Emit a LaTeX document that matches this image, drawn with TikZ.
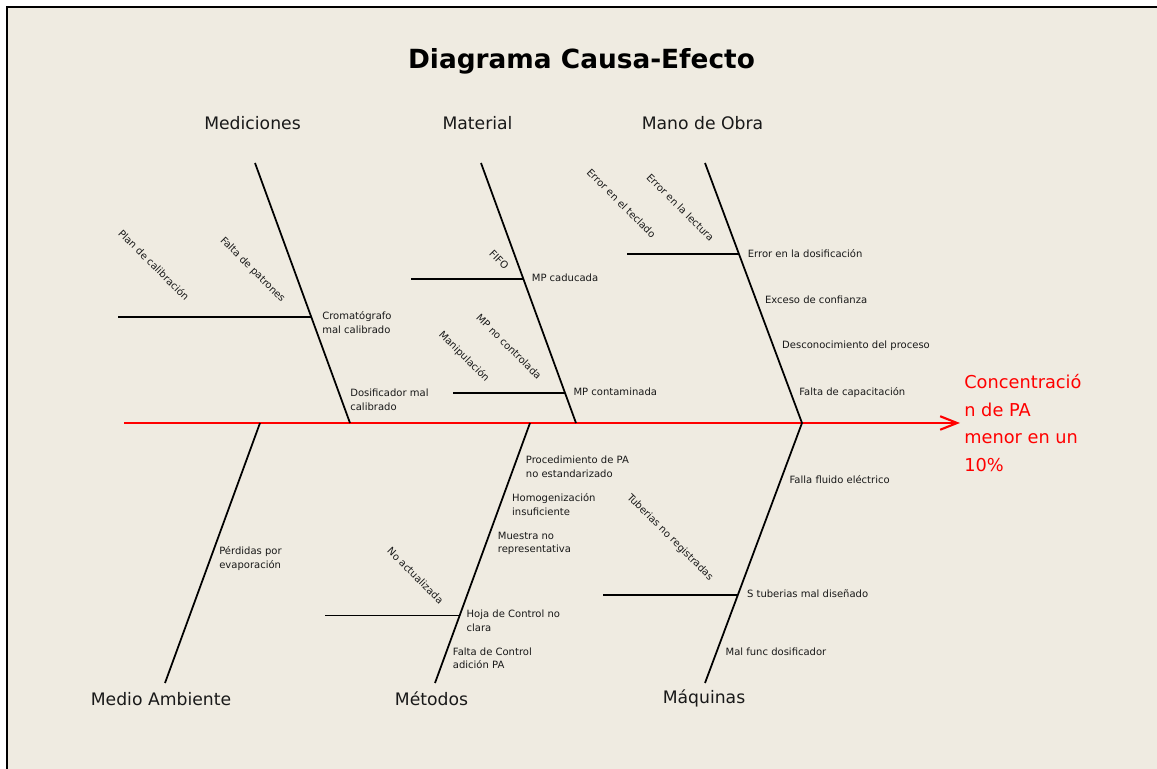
\documentclass[tikz,border=0pt]{standalone}
\usepackage{fontspec}
\setmainfont{DejaVu Sans}
\usetikzlibrary{arrows.meta}

\definecolor{fondo}{RGB}{239,235,225}
\definecolor{texto}{RGB}{25,25,25}

\tikzset{
  bone/.style={line width=1pt, black},
  spine/.style={line width=1.2pt, red, -{Straight Barb[length=0.34cm, width=0.27cm]}},
  causa/.style={anchor=west, inner sep=0pt, xshift=0.16cm, align=left, text=texto, font=\fontsize{5.7}{7.9}\selectfont},
  subcausa/.style={rotate=-45, inner sep=0pt, text=texto, font=\fontsize{5.7}{7.9}\selectfont},
  categoria/.style={text=texto, font=\fontsize{9.8}{12}\selectfont},
}

\begin{document}
\begin{tikzpicture}
  \useasboundingbox (0,0) rectangle (23.14,15.38);
  \fill[fondo] (0.14,0) rectangle (23.14,15.24);
  \draw[line width=1.1pt] (0.14,0) -- (0.14,15.24) -- (23.14,15.24);

  \node[text=black, font=\fontsize{15}{18}\selectfont\bfseries] (titulo) at (11.63,14.15) {Diagrama Causa-Efecto};

  % espina central y efecto
  \coordinate (cola) at (2.48,6.92);
  \node[anchor=west, inner sep=0.08cm, align=left, red, font=\fontsize{10.1}{15.76}\selectfont] (efecto) at (19.2,6.92) {Concentració\\n de PA\\menor en un\\10\%};
  \draw[spine] (cola) -- (efecto.west);

  % categorias
  \node[categoria] (medic) at (5.05,12.91) {Mediciones};
  \node[categoria] (mater) at (9.55,12.91) {Material};
  \node[categoria] (mano) at (14.05,12.91) {Mano de Obra};
  \node[categoria] (ambiente) at (3.22,1.39) {Medio Ambiente};
  \node[categoria] (metodos) at (8.63,1.41) {Métodos};
  \node[categoria] (maquinas) at (14.08,1.42) {Máquinas};

  % espinas de arriba
  \coordinate (medT) at (5.10,12.12);  \coordinate (medB) at (7.00,6.92);
  \coordinate (matT) at (9.62,12.12);  \coordinate (matB) at (11.52,6.92);
  \coordinate (moT) at (14.10,12.12);  \coordinate (moB) at (16.04,6.92);

  \draw[bone] (medT) -- (medB)
    coordinate[pos=0.592] (cromJ)
    node[causa, pos=0.615] (cromato) {Cromatógrafo\\mal calibrado}
    node[causa, pos=0.91] (dosif) {Dosificador mal\\calibrado};
  \draw[bone] (cromJ) -- +(-3.865,0) coordinate (cromL);

  \draw[bone] (matT) -- (matB)
    coordinate[pos=0.446] (caducJ)
    coordinate[pos=0.885] (contamJ)
    node[causa, pos=0.442] (caducada) {MP caducada}
    node[causa, pos=0.881] (contam) {MP contaminada};
  \draw[bone] (caducJ) -- +(-2.25,0) coordinate (caducL);
  \draw[bone] (contamJ) -- +(-2.24,0) coordinate (contamL);

  \draw[bone] (moT) -- (moB)
    coordinate[pos=0.35] (errJ)
    node[causa, pos=0.35] (errdosif) {Error en la dosificación}
    node[causa, pos=0.527] (exceso) {Exceso de confianza}
    node[causa, pos=0.704] (descon) {Desconocimiento del proceso}
    node[causa, pos=0.881] (capac) {Falta de capacitación};
  \draw[bone] (errJ) -- +(-2.24,0) coordinate (errL);

  % espinas de abajo
  \coordinate (maT) at (5.20,6.92);    \coordinate (maB) at (3.30,1.72);
  \coordinate (metT) at (10.60,6.92);  \coordinate (metB) at (8.70,1.72);
  \coordinate (maqT) at (16.04,6.92);  \coordinate (maqB) at (14.10,1.72);

  \draw[bone] (maT) -- (maB)
    node[causa, pos=0.522] (perdidas) {Pérdidas por\\evaporación};

  \draw[bone] (metT) -- (metB)
    coordinate[pos=0.74] (hojaJ)
    node[causa, pos=0.168, xshift=0.06cm] (proced) {Procedimiento de PA\\no estandarizado}
    node[causa, pos=0.313, xshift=0.06cm] (homog) {Homogenización\\insuficiente}
    node[causa, pos=0.463, xshift=0.06cm] (muestra) {Muestra no\\representativa}
    node[causa, pos=0.76] (hoja) {Hoja de Control no\\clara}
    node[causa, pos=0.905] (adicion) {Falta de Control\\adición PA};
  \draw[bone] (hojaJ) -- +(-2.69,0) coordinate (hojaL);

  \draw[bone] (maqT) -- (maqB)
    coordinate[pos=0.663] (tubJ)
    node[causa, pos=0.219] (fluido) {Falla fluido eléctrico}
    node[causa, pos=0.658] (tuberias) {S tuberias mal diseñado}
    node[causa, pos=0.879] (dosifmal) {Mal func dosificador};
  \draw[bone] (tubJ) -- +(-2.69,0) coordinate (tubL);

  % subcausas inclinadas
  \node[subcausa] (plancal) at (3.08,10.08) {Plan de calibración};
  \node[subcausa] (patrones) at (5.05,9.98) {Falta de patrones};
  \node[subcausa] (fifo) at (9.98,10.18) {FIFO};
  \node[subcausa] (noctrl) at (10.18,8.45) {MP no controlada};
  \node[subcausa] (manip) at (9.28,8.25) {Manipulación};
  \node[subcausa] (teclado) at (12.43,11.31) {Error en el teclado};
  \node[subcausa] (lectura) at (13.61,11.23) {Error en la lectura};
  \node[subcausa] (noact) at (8.31,3.87) {No actualizada};
  \node[subcausa] (noreg) at (13.40,4.63) {Tuberias no registradas};
\end{tikzpicture}
\end{document}
